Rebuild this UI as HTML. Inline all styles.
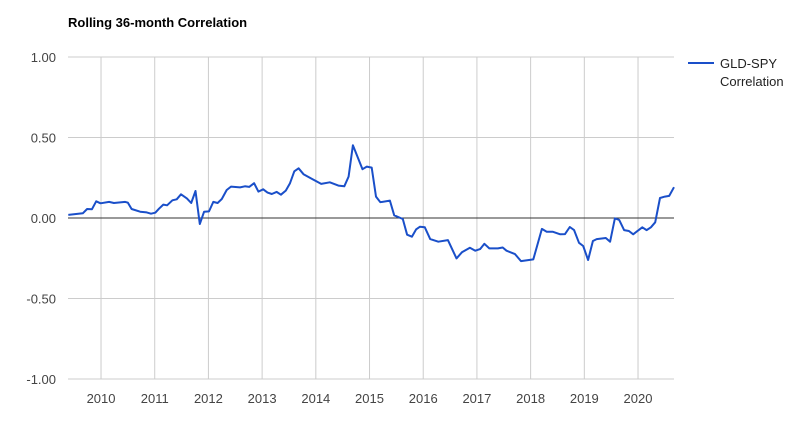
<!DOCTYPE html>
<html><head><meta charset="utf-8"><style>
html,body{margin:0;padding:0;background:#fff;}
svg{display:block;font-family:"Liberation Sans",Arial,sans-serif;}
</style></head><body>
<svg id="chart" width="800" height="441">
<text x="68" y="27" font-size="13" font-weight="bold" fill="#000">Rolling 36-month Correlation</text>
<g id="grid"></g><g id="axes"></g><g id="series"></g>
<g>
<line x1="688" y1="63" x2="714" y2="63" stroke="#1a4fc9" stroke-width="2"></line>
<text x="720" y="68" font-size="13" fill="#222">GLD-SPY</text>
<text x="720" y="86" font-size="13" fill="#222">Correlation</text>
</g>
</svg>
<script>
const years=[2009.39,2009.66,2009.74,2009.83,2009.91,2009.99,2010.15,2010.24,2010.45,2010.50,2010.57,2010.73,2010.85,2010.93,2011.01,2011.08,2011.16,2011.23,2011.33,2011.41,2011.49,2011.60,2011.68,2011.76,2011.84,2011.92,2012.01,2012.09,2012.17,2012.25,2012.34,2012.42,2012.59,2012.68,2012.76,2012.85,2012.93,2013.02,2013.10,2013.18,2013.27,2013.35,2013.44,2013.52,2013.60,2013.68,2013.77,2013.94,2014.10,2014.26,2014.42,2014.53,2014.61,2014.69,2014.87,2014.95,2015.04,2015.12,2015.20,2015.38,2015.46,2015.62,2015.70,2015.79,2015.87,2015.94,2016.03,2016.13,2016.28,2016.46,2016.62,2016.72,2016.87,2016.97,2017.06,2017.14,2017.23,2017.39,2017.48,2017.55,2017.71,2017.82,2018.05,2018.21,2018.30,2018.41,2018.55,2018.64,2018.73,2018.81,2018.90,2018.98,2019.07,2019.16,2019.23,2019.40,2019.48,2019.57,2019.65,2019.74,2019.83,2019.91,2020.08,2020.16,2020.24,2020.32,2020.41,2020.50,2020.58,2020.67];
const corr=[0.019,0.029,0.056,0.054,0.104,0.091,0.10,0.093,0.10,0.095,0.056,0.039,0.035,0.027,0.033,0.058,0.083,0.079,0.11,0.116,0.147,0.122,0.093,0.168,-0.037,0.039,0.041,0.10,0.093,0.118,0.174,0.195,0.19,0.197,0.193,0.216,0.164,0.178,0.158,0.149,0.162,0.145,0.17,0.216,0.29,0.309,0.272,0.241,0.212,0.222,0.201,0.197,0.257,0.452,0.303,0.319,0.313,0.133,0.098,0.108,0.017,-0.006,-0.104,-0.116,-0.07,-0.054,-0.058,-0.131,-0.147,-0.137,-0.251,-0.213,-0.185,-0.203,-0.193,-0.16,-0.189,-0.189,-0.183,-0.203,-0.224,-0.268,-0.257,-0.068,-0.085,-0.085,-0.101,-0.10,-0.056,-0.075,-0.154,-0.174,-0.261,-0.143,-0.131,-0.124,-0.147,-0.002,-0.012,-0.075,-0.081,-0.101,-0.058,-0.075,-0.058,-0.027,0.124,0.133,0.137,0.191];
const yTicks=[1.0,0.5,0.0,-0.5,-1.0];
const yTickLabels=["1.00","0.50","0.00","-0.50","-1.00"];
const xTicks=[2010,2011,2012,2013,2014,2015,2016,2017,2018,2019,2020];
const NS="http://www.w3.org/2000/svg";
const X0=68,X1=674,Y0=57,Y1=379;
const xMin=2009.385,xMax=2020.67;
function xs(v){return X0+(v-xMin)/(xMax-xMin)*(X1-X0);}
function ys(v){return Y0+(1-v)/2*(Y1-Y0);}
function mk(tag,attrs,parent){const e=document.createElementNS(NS,tag);for(const k in attrs)e.setAttribute(k,attrs[k]);parent.appendChild(e);return e;}
const grid=document.getElementById('grid'),axes=document.getElementById('axes'),series=document.getElementById('series');
yTicks.forEach((t,i)=>{
  if(t!==0){const l=mk('line',{x1:X0,x2:X1,y1:ys(t),y2:ys(t),stroke:'#ccc','stroke-width':1},grid);
  
  }
  const tx=mk('text',{x:56,y:ys(t)+5,'text-anchor':'end','font-size':13,fill:'#444'},axes);
  tx.textContent=yTickLabels[i];
  
  
});
xTicks.forEach(t=>{
  const l=mk('line',{x1:xs(t),x2:xs(t),y1:Y0,y2:Y1,stroke:'#ccc','stroke-width':1},grid);
  
  
  const tx=mk('text',{x:xs(t),y:403,'text-anchor':'middle','font-size':13,fill:'#444'},axes);
  tx.textContent=String(t);
  
  
});
const zl=mk('line',{x1:X0,x2:X1,y1:ys(0),y2:ys(0),stroke:'#333','stroke-width':1},axes);


const d=years.map((y,i)=>(i?'L':'M')+xs(y).toFixed(1)+','+ys(corr[i]).toFixed(1)).join(' ');
const p=mk('path',{d:d,fill:'none',stroke:'#1a4fc9','stroke-width':2,'stroke-linejoin':'round'},series);


</script>
</body></html>
